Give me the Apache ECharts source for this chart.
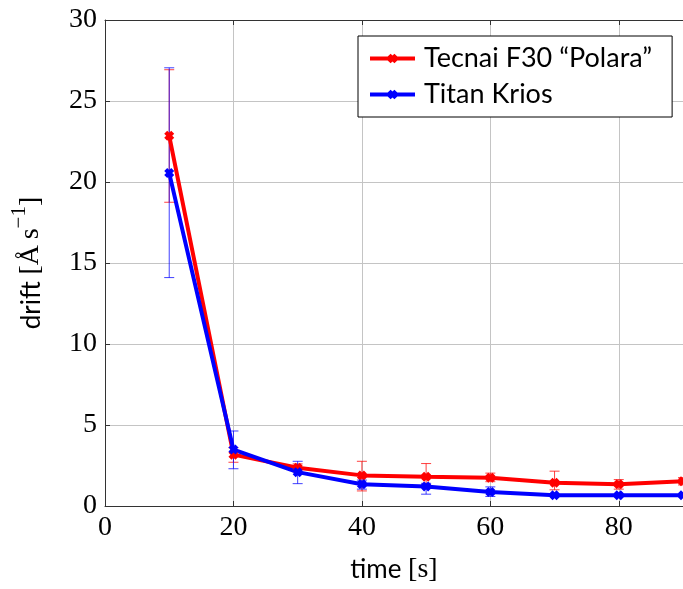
<!DOCTYPE html>
<html>
<head>
<meta charset="utf-8">
<script src="https://cdn.jsdelivr.net/npm/echarts@6/dist/echarts.min.js"></script>
<style>html,body{margin:0;padding:0;background:#fff}#c{width:683px;height:589px}</style>
</head>
<body>
<div id="c"></div>
<script>
// ---- data ----
const times = [10, 20, 30, 40, 50, 60, 70, 80, 90];
const tecnai = [22.85, 3.17, 2.36, 1.89, 1.81, 1.75, 1.44, 1.34, 1.53];
const tecnaiLow = [18.75, 2.70, 2.10, 0.93, 1.30, 1.50, 1.00, 1.04, 1.30];
const tecnaiHigh = [26.93, 3.60, 2.60, 2.76, 2.62, 2.03, 2.15, 1.63, 1.75];
const krios = [20.55, 3.48, 2.09, 1.34, 1.20, 0.87, 0.67, 0.67, 0.67];
const kriosLow = [14.10, 2.30, 1.38, 1.04, 0.73, 0.59, 0.60, 0.60, 0.60];
const kriosHigh = [27.05, 4.63, 2.76, 1.60, 1.40, 1.18, 0.75, 0.75, 0.75];
const xTicks = [0, 20, 40, 60, 80];
const yTicks = [0, 5, 10, 15, 20, 25, 30];

const RED = '#ff0000', BLUE = '#0000ff';
const XMARK = 'path://M0,3 L3,0 L5,2 L7,0 L10,3 L8,5 L10,7 L7,10 L5,8 L3,10 L0,7 L2,5 Z';

function pts(xs, ys) { return xs.map((x, i) => [x, ys[i]]); }
function errData(xs, lo, hi) { return xs.map((x, i) => [x, lo[i], hi[i]]); }

function errSeries(data, color) {
  return {
    type: 'custom',
    data: data,
    silent: true,
    renderItem: function (params, api) {
      const x = api.value(0);
      const p1 = api.coord([x, api.value(1)]);
      const p2 = api.coord([x, api.value(2)]);
      const w = 5;
      const st = { stroke: color, lineWidth: 1, opacity: 0.75 };
      return {
        type: 'group',
        children: [
          { type: 'line', shape: { x1: p1[0], y1: p1[1], x2: p2[0], y2: p2[1] }, style: st },
          { type: 'line', shape: { x1: p1[0] - w, y1: p1[1], x2: p1[0] + w, y2: p1[1] }, style: st },
          { type: 'line', shape: { x1: p2[0] - w, y1: p2[1], x2: p2[0] + w, y2: p2[1] }, style: st }
        ]
      };
    },
    encode: { x: 0, y: [1, 2] }
  };
}

const chart = echarts.init(document.getElementById('c'), null, { renderer: 'canvas' });
const serifLabel = { fontFamily: 'Liberation Serif', fontSize: 28, color: '#000' };

chart.setOption({
  animation: false,
  backgroundColor: '#fff',
  grid: { left: 105, top: 20, right: -10, bottom: 77, containLabel: false },
  legend: {
    left: 358, top: 36,
    orient: 'vertical',
    data: ['Tecnai F30 “Polara”', 'Titan Krios'],
    itemWidth: 45, itemHeight: 12, itemGap: 9,
    padding: [9, 20, 9, 10],
    borderColor: '#000', borderWidth: 1,
    backgroundColor: '#fff',
    lineStyle: { width: 4 },
    textStyle: { fontFamily: 'Lato', fontSize: 27, color: '#000', padding: [0, 0, 0, 4] }
  },
  xAxis: [{
    type: 'value', min: 0, max: 90, interval: 20,
    name: '{a|time }{b|[s]}', nameLocation: 'middle', nameGap: 50,
    nameTextStyle: { rich: { a: { fontFamily: 'Lato', fontSize: 26, color: '#000' }, b: { fontFamily: 'Liberation Serif', fontSize: 28, color: '#000' } } },
    axisLine: { show: true, lineStyle: { color: '#333', width: 1 } },
    axisTick: { show: true, inside: true, length: 5, lineStyle: { color: '#333' } },
    axisLabel: Object.assign({ margin: 8, showMaxLabel: false }, serifLabel),
    splitLine: { show: true, lineStyle: { color: '#c4c4c4', width: 1 } }
  }, {
    type: 'value', min: 0, max: 90, interval: 20, position: 'top',
    axisLine: { show: true, lineStyle: { color: '#333', width: 1 } },
    axisTick: { show: true, inside: true, length: 5, lineStyle: { color: '#333' } },
    axisLabel: { show: false },
    splitLine: { show: false }
  }],
  yAxis: {
    type: 'value', min: 0, max: 30, interval: 5,
    name: '{a|drift }{b|[Å\u2009s}{c|−1}{b|]}', nameLocation: 'middle', nameGap: 60, nameRotate: 90,
    nameTextStyle: { rich: {
      a: { fontFamily: 'Lato', fontSize: 26, color: '#000', lineHeight: 36, verticalAlign: 'bottom' },
      b: { fontFamily: 'Liberation Serif', fontSize: 28, color: '#000', lineHeight: 36, verticalAlign: 'bottom' },
      c: { fontFamily: 'Liberation Serif', fontSize: 21, color: '#000', lineHeight: 36, verticalAlign: 'top' }
    } },
    axisLine: { show: true, lineStyle: { color: '#333', width: 1 } },
    axisTick: { show: true, inside: true, length: 5, lineStyle: { color: '#333' } },
    axisLabel: Object.assign({ margin: 8 }, serifLabel),
    splitLine: { show: true, lineStyle: { color: '#c4c4c4', width: 1 } }
  },
  series: [
    errSeries(errData(times, tecnaiLow, tecnaiHigh), RED),
    {
      name: 'Tecnai F30 “Polara”', type: 'line', data: pts(times, tecnai),
      symbol: XMARK, symbolSize: 10, showSymbol: true,
      lineStyle: { color: RED, width: 4 }, itemStyle: { color: RED }
    },
    errSeries(errData(times, kriosLow, kriosHigh), BLUE),
    {
      name: 'Titan Krios', type: 'line', data: pts(times, krios),
      symbol: XMARK, symbolSize: 10, showSymbol: true,
      lineStyle: { color: BLUE, width: 4 }, itemStyle: { color: BLUE }
    }
  ]
});
</script>
</body>
</html>
